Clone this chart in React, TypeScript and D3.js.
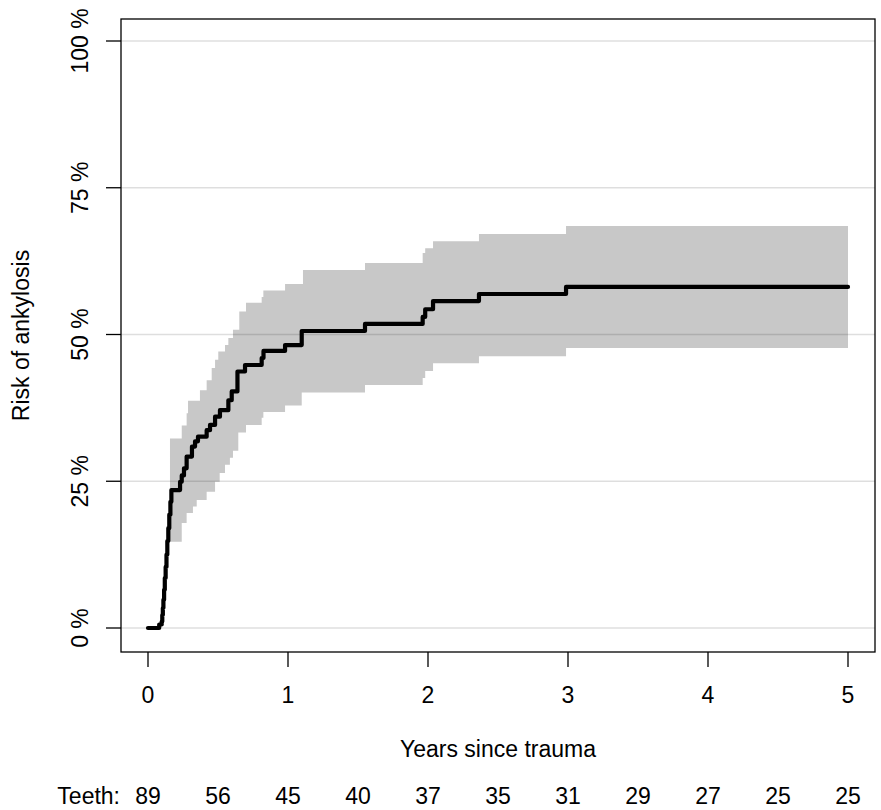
import React, { useEffect, useRef } from "react";
import * as d3 from "d3";

// Kaplan-Meier style cumulative risk (percent), step after each time
const riskTimes = [0, 0.08, 0.098, 0.102, 0.106, 0.11, 0.115, 0.12, 0.126, 0.132, 0.138, 0.145, 0.152, 0.16, 0.167,
  0.229, 0.241, 0.257, 0.276, 0.314, 0.336, 0.357, 0.419, 0.443, 0.479, 0.514, 0.574, 0.598, 0.639, 0.693,
  0.812, 0.825, 0.979, 1.098, 1.55, 1.962, 1.98, 2.036, 2.364, 2.986, 5];
const riskValues = [0, 0.6, 1.1, 2.2, 3.4, 4.8, 6.5, 8.5, 10.4, 12.5, 14.8, 17, 19.3, 21.5, 23.5,
  24.9, 26.0, 27.2, 29.2, 30.9, 31.8, 32.6, 33.7, 34.6, 36.0, 37.1, 38.8, 40.3, 43.7, 44.8,
  46.0, 47.2, 48.2, 50.6, 51.8, 53.0, 54.3, 55.7, 56.9, 58.1, 58.1];

// confidence band
const bandTimes = [0.157, 0.241, 0.276, 0.286, 0.321, 0.348, 0.371, 0.419, 0.455, 0.479, 0.502, 0.512, 0.55, 0.574,
  0.585, 0.607, 0.645, 0.652, 0.7, 0.812, 0.824, 0.979, 1.098, 1.107, 1.55, 1.962, 1.98, 2.036, 2.364, 2.986, 5];
const bandLower = [14.7, 17.9, 19.6, 19.6, 20.7, 21.8, 21.8, 23.2, 23.2, 24.9, 24.9, 26.4, 27.8, 27.8,
  29.0, 30.2, 33.3, 33.3, 34.6, 35.8, 36.8, 37.9, 40.1, 40.1, 41.4, 42.6, 43.8, 45.1, 46.3, 47.7, 47.7];
const bandUpper = [32.3, 34.5, 36.6, 38.7, 38.7, 38.7, 40.5, 42.2, 44.3, 45.7, 47.1, 47.1, 48.2, 49.4,
  49.4, 50.8, 50.8, 53.9, 55.4, 56.4, 57.5, 58.6, 58.6, 61.0, 62.2, 63.9, 64.7, 65.9, 67.1, 68.5, 68.5];

const yTicks = [0, 25, 50, 75, 100];
const xTicks = [0, 1, 2, 3, 4, 5];
const teethTimes = [0, 0.5, 1, 1.5, 2, 2.5, 3, 3.5, 4, 4.5, 5];
const teethCounts = [89, 56, 45, 40, 37, 35, 31, 29, 27, 25, 25];

const W = 881, H = 810;
const box = { left: 121, right: 875, top: 19, bottom: 652 };
const font = "'Liberation Sans', Arial, sans-serif";
const fs = 23;

export default function App() {
  const ref = useRef<SVGSVGElement>(null);

  useEffect(() => {
    const svg = d3.select(ref.current);
    svg.selectAll("*").remove();

    const x = d3.scaleLinear().domain([0, 5]).range([148, 848]);
    const y = d3.scaleLinear().domain([0, 100]).range([628, 41]);

    svg.append("rect").attr("width", W).attr("height", H).attr("fill", "#fff");

    // CI band
    const band = bandTimes.map((t, i) => ({ t, lo: bandLower[i], hi: bandUpper[i] }));
    const area = d3.area<any>()
      .x(d => x(d.t))
      .y0(d => y(d.lo))
      .y1(d => y(d.hi))
      .curve(d3.curveStepAfter);
    svg.append("path").attr("d", area(band)).attr("fill", "#c8c8c8");

    // grid lines
    svg.selectAll(".grid")
      .data(yTicks)
      .join("line")
      .attr("class", "grid")
      .attr("x1", box.left).attr("x2", box.right)
      .attr("y1", d => y(d)).attr("y2", d => y(d))
      .attr("stroke", "rgba(0,0,0,0.13)")
      .attr("stroke-width", 1.3);

    // risk curve
    const pts = riskTimes.map((t, i) => ({ t, v: riskValues[i] }));
    const line = d3.line<any>().x(d => x(d.t)).y(d => y(d.v)).curve(d3.curveStepAfter);
    svg.append("path")
      .attr("d", line(pts))
      .attr("fill", "none")
      .attr("stroke", "#000")
      .attr("stroke-width", 4.2)
      .attr("stroke-linecap", "round")
      .attr("stroke-linejoin", "round");

    // frame
    svg.append("rect")
      .attr("x", box.left).attr("y", box.top)
      .attr("width", box.right - box.left).attr("height", box.bottom - box.top)
      .attr("fill", "none").attr("stroke", "#000").attr("stroke-width", 1.3);

    // y axis
    const yAx = svg.append("g");
    yAx.selectAll("line")
      .data(yTicks)
      .join("line")
      .attr("x1", 106).attr("x2", box.left)
      .attr("y1", d => y(d)).attr("y2", d => y(d))
      .attr("stroke", "#000").attr("stroke-width", 1.3);
    yAx.selectAll("text")
      .data(yTicks)
      .join("text")
      .attr("transform", d => `translate(88, ${y(d)}) rotate(-90)`)
      .attr("text-anchor", "middle")
      .attr("font-family", font)
      .attr("font-size", fs)
      .attr("fill", "#000")
      .text(d => `${d} %`);

    svg.append("text")
      .attr("transform", `translate(29, ${(box.top + box.bottom) / 2}) rotate(-90)`)
      .attr("text-anchor", "middle")
      .attr("font-family", font)
      .attr("font-size", fs)
      .text("Risk of ankylosis");

    // x axis
    const xAx = svg.append("g");
    xAx.selectAll("line")
      .data(xTicks)
      .join("line")
      .attr("x1", d => x(d)).attr("x2", d => x(d))
      .attr("y1", box.bottom).attr("y2", 667)
      .attr("stroke", "#000").attr("stroke-width", 1.3);
    xAx.selectAll("text")
      .data(xTicks)
      .join("text")
      .attr("x", d => x(d)).attr("y", 703)
      .attr("text-anchor", "middle")
      .attr("font-family", font)
      .attr("font-size", fs)
      .text(d => d);

    svg.append("text")
      .attr("x", (box.left + box.right) / 2).attr("y", 757)
      .attr("text-anchor", "middle")
      .attr("font-family", font)
      .attr("font-size", fs)
      .text("Years since trauma");

    // number at risk row
    svg.append("text")
      .attr("x", 120).attr("y", 804)
      .attr("text-anchor", "end")
      .attr("font-family", font)
      .attr("font-size", fs)
      .text("Teeth:");
    svg.selectAll(".teeth")
      .data(teethTimes)
      .join("text")
      .attr("class", "teeth")
      .attr("x", d => x(d)).attr("y", 804)
      .attr("text-anchor", "middle")
      .attr("font-family", font)
      .attr("font-size", fs)
      .text((d, i) => teethCounts[i]);
  }, []);

  return (
    <svg ref={ref} width={W} height={H}
      style={{ position: "absolute", left: 0, top: 0, display: "block" }} />
  );
}
